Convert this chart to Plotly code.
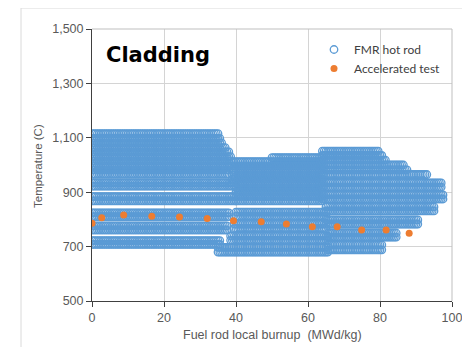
import plotly.graph_objects as go

# ---------------- data ----------------
# FMR hot rod: horizontal temperature tracks (temperature C, start burnup, end burnup)
# cycle 1
c1_temp = [1115, 1098, 1081, 1064, 1048, 1031, 1015, 998, 982, 966,
           934, 922, 884, 868, 824, 810, 776, 761, 722, 708]
c1_start = [0] * 20
c1_end = [35, 35.5, 36, 37, 38, 38.5, 38.5, 38.5, 38, 38,
          40, 40, 40, 40, 38, 38, 37.5, 37.5, 35.5, 35.5]
# cycle 2
c2_temp = [1027, 1012, 996, 980, 964, 948, 932, 916, 900, 884, 868,
           827, 812, 783, 767, 739, 723, 697, 680]
c2_start = [50, 39, 39, 39, 39, 39, 40, 40, 40, 40, 40,
            40, 40, 39.5, 39.5, 38.5, 38.5, 35, 35]
c2_end = [64, 64, 64, 64, 64, 64, 64, 64, 64, 64, 64,
          65, 65, 65, 65, 65.5, 65.5, 65.5, 65.5]
# cycle 3
c3_temp = [1051, 1035, 1018, 1000, 982, 965, 934, 919, 890, 875,
           846, 831, 798, 783, 750, 735, 706, 688]
c3_start = [64, 64, 64, 64, 64, 64, 64, 64, 64, 64,
            65, 65, 65, 65, 65.5, 65.5, 65.5, 65.5]
c3_end = [79.5, 80.5, 81.5, 86.5, 87.5, 93, 97, 97, 97.5, 97.5,
          95, 95, 90.5, 90.5, 84.7, 84.7, 80.5, 80.5]
burnup_sample_step = 0.5  # MWd/kg between stored hot-rod samples

# Accelerated test
acc_burnup = [0, 2.7, 8.8, 16.6, 24.3, 32.0, 39.3, 47.0, 54.0, 61.2, 68.1, 74.9, 81.7, 88.1]
acc_temp = [786, 806, 816, 812, 809, 803, 795, 791, 783, 773, 773, 761, 761, 749]

x_ticks = [0, 20, 40, 60, 80, 100]
y_ticks = [500, 700, 900, 1100, 1300, 1500]

# ---------------- build hot-rod samples ----------------
fmr_x, fmr_y = [], []
for temps, starts, ends in [(c1_temp, c1_start, c1_end),
                            (c2_temp, c2_start, c2_end),
                            (c3_temp, c3_start, c3_end)]:
    for t, s, e in zip(temps, starts, ends):
        b = s
        while b <= e + 1e-9:
            fmr_x.append(b)
            fmr_y.append(t)
            b += burnup_sample_step

blue = "#5B9BD5"
orange = "#ED7D31"
tick_col = "#595959"

# the page body adds an 8px offset; size the figure to fill the window exactly
OFF = 8
W, H = 470 - OFF, 347 - OFF
L, R, T, B = 92 - OFF, 18, 29 - OFF, 46
pw, ph = W - L - R, H - T - B


def px_x(p):  # window pixel -> paper x
    return (p - OFF - L) / pw


def px_y(p):  # window pixel -> paper y
    return (H - B - (p - OFF)) / ph


fig = go.Figure()
fig.add_trace(go.Scatter(
    x=fmr_x, y=fmr_y, mode="markers", name="FMR hot rod",
    marker=dict(symbol="circle-open", size=7.5, color=blue, line=dict(width=1.3, color=blue)),
))
fig.add_trace(go.Scatter(
    x=acc_burnup, y=acc_temp, mode="markers", name="Accelerated test",
    marker=dict(symbol="circle", size=7, color=orange),
))

fig.update_layout(
    width=W, height=H,
    margin=dict(l=L, r=R, t=T, b=B, autoexpand=False),
    paper_bgcolor="white", plot_bgcolor="white",
    showlegend=True,
    legend=dict(x=px_x(314), y=px_y(35), xanchor="left", yanchor="top",
                bgcolor="rgba(0,0,0,0)", traceorder="normal",
                font=dict(family="Lato", size=12, color="#404040"),
                tracegroupgap=0, itemwidth=30),
    font=dict(family="Liberation Sans, Arial", color=tick_col),
)
fig.update_xaxes(
    range=[0, 100], tickvals=x_ticks, showgrid=True, gridcolor="#D4D4D4", gridwidth=1,
    showline=True, linecolor="#404040", linewidth=1, zeroline=False,
    ticks="outside", ticklen=5, tickcolor="#404040", automargin=False,
    tickfont=dict(size=12.5, color=tick_col),
)
fig.update_yaxes(
    range=[500, 1500], tickvals=y_ticks, tickformat=",d", showgrid=True, gridcolor="#D4D4D4", gridwidth=1,
    showline=True, linecolor="#404040", linewidth=1, zeroline=False,
    ticks="outside", ticklen=5, tickcolor="#404040", automargin=False,
    tickfont=dict(size=12.5, color=tick_col),
)
# axis titles
fig.add_annotation(x=0.5, y=px_y(335), xref="paper", yref="paper", showarrow=False,
                   xanchor="center", yanchor="middle",
                   text="Fuel rod local burnup  (MWd/kg)",
                   font=dict(size=12.5, color=tick_col))
fig.add_annotation(x=px_x(38), y=px_y(166), xref="paper", yref="paper", showarrow=False,
                   xanchor="center", yanchor="middle",
                   text="Temperature (C)", textangle=-90,
                   font=dict(size=11.5, color=tick_col))
# grey frame on top / right of plot area
fig.add_shape(type="line", xref="paper", yref="paper", x0=0, x1=1, y0=1, y1=1,
              line=dict(color="#BFBFBF", width=1))
fig.add_shape(type="line", xref="paper", yref="paper", x0=1, x1=1, y0=0, y1=1,
              line=dict(color="#BFBFBF", width=1))
# outer chart border (top and left)
fig.add_shape(type="line", xref="paper", yref="paper", x0=px_x(21), x1=px_x(470), y0=px_y(8), y1=px_y(8),
              line=dict(color="#DADADA", width=1))
fig.add_shape(type="line", xref="paper", yref="paper", x0=px_x(21), x1=px_x(21), y0=px_y(347), y1=px_y(8),
              line=dict(color="#DADADA", width=1))

fig.add_annotation(x=px_x(158), y=px_y(55), xref="paper", yref="paper", text="<b>Cladding</b>",
                   xanchor="center", yanchor="middle",
                   showarrow=False, font=dict(family="DejaVu Sans", size=21, color="black"))

fig.write_html("out.html")
